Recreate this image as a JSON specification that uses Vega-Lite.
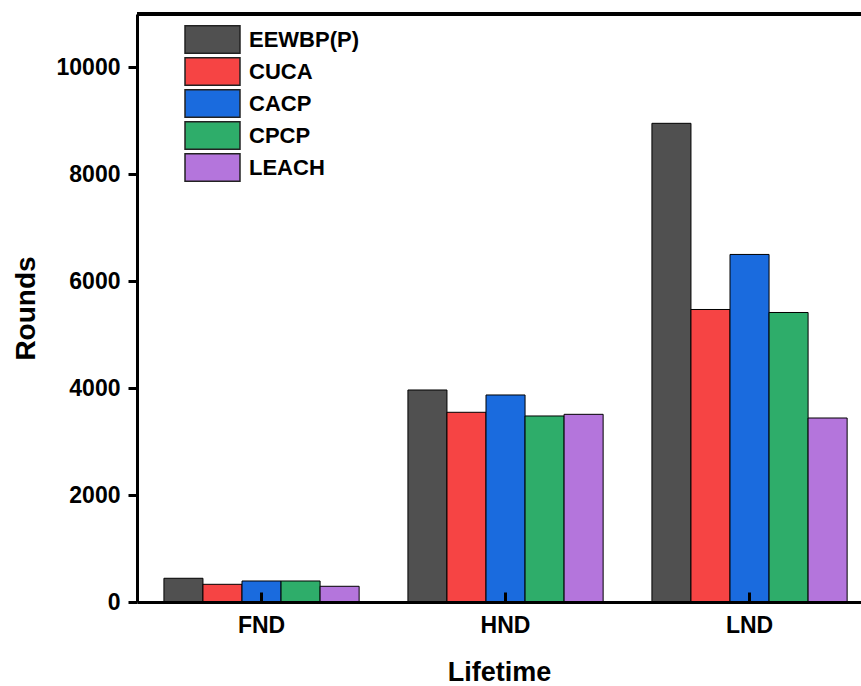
{
  "$schema": "https://vega.github.io/schema/vega-lite/v6.json",
  "width": 724,
  "height": 588,
  "autosize": "none",
  "padding": {"left": 137, "top": 14, "right": 0, "bottom": 84},
  "background": "white",
  "config": {
    "view": {"stroke": null},
    "font": "Liberation Sans",
    "axis": {
      "labelFont": "Liberation Sans",
      "titleFont": "Liberation Sans",
      "labelFontWeight": "bold",
      "titleFontWeight": "bold",
      "labelColor": "black",
      "titleColor": "black",
      "domainColor": "black",
      "tickColor": "black",
      "domainWidth": 3,
      "tickWidth": 3,
      "grid": false
    }
  },
  "data": {
    "values": [
      {"phase": "FND", "method": "EEWBP(P)", "rounds": 444},
      {"phase": "FND", "method": "CUCA", "rounds": 331},
      {"phase": "FND", "method": "CACP", "rounds": 393},
      {"phase": "FND", "method": "CPCP", "rounds": 393},
      {"phase": "FND", "method": "LEACH", "rounds": 294},
      {"phase": "HND", "method": "EEWBP(P)", "rounds": 3966},
      {"phase": "HND", "method": "CUCA", "rounds": 3549},
      {"phase": "HND", "method": "CACP", "rounds": 3873},
      {"phase": "HND", "method": "CPCP", "rounds": 3480},
      {"phase": "HND", "method": "LEACH", "rounds": 3511},
      {"phase": "LND", "method": "EEWBP(P)", "rounds": 8955},
      {"phase": "LND", "method": "CUCA", "rounds": 5472},
      {"phase": "LND", "method": "CACP", "rounds": 6502},
      {"phase": "LND", "method": "CPCP", "rounds": 5416},
      {"phase": "LND", "method": "LEACH", "rounds": 3442}
    ]
  },
  "layer": [
    {
      "mark": {"type": "bar", "stroke": "black", "strokeWidth": 1},
      "encoding": {
        "x": {
          "field": "phase",
          "type": "nominal",
          "sort": ["FND", "HND", "LND"],
          "scale": {"paddingInner": 0.2, "paddingOuter": 0.0836, "align": 0.66},
          "axis": {
            "title": "Lifetime",
            "labelAngle": 0,
            "labelFontSize": 23,
            "titleFontSize": 27,
            "tickSize": -10,
            "labelPadding": 22,
            "titlePadding": 22,
            "zindex": 1
          }
        },
        "xOffset": {
          "field": "method",
          "type": "nominal",
          "sort": ["EEWBP(P)", "CUCA", "CACP", "CPCP", "LEACH"],
          "scale": {"paddingInner": 0, "paddingOuter": 0}
        },
        "y": {
          "field": "rounds",
          "type": "quantitative",
          "stack": null,
          "scale": {"domain": [0, 11000], "nice": false},
          "axis": {
            "title": "Rounds",
            "values": [0, 2000, 4000, 6000, 8000, 10000],
            "format": "d",
            "labelFontSize": 23,
            "titleFontSize": 28,
            "tickSize": 9,
            "labelPadding": 8,
            "titlePadding": 16,
            "zindex": 1
          }
        },
        "color": {
          "field": "method",
          "type": "nominal",
          "sort": ["EEWBP(P)", "CUCA", "CACP", "CPCP", "LEACH"],
          "scale": {
            "domain": ["EEWBP(P)", "CUCA", "CACP", "CPCP", "LEACH"],
            "range": ["#505050", "#F64444", "#1A6BDE", "#2EAD6A", "#B475DC"]
          },
          "legend": {
            "title": null,
            "orient": "none",
            "legendX": 61,
            "legendY": 11,
            "symbolType": "M-2,-1H2V1H-2Z",
            "symbolSize": 756,
            "symbolStrokeColor": "#222222",
            "symbolStrokeWidth": 1.5,
            "symbolOpacity": 1,
            "labelFont": "Liberation Sans",
            "labelFontSize": 22,
            "labelFontWeight": "bold",
            "labelColor": "black",
            "labelOffset": 22,
            "rowPadding": -3
          }
        }
      }
    },
    {
      "mark": {"type": "rule", "color": "black", "strokeWidth": 3},
      "encoding": {"y": {"datum": 11000}}
    }
  ]
}
